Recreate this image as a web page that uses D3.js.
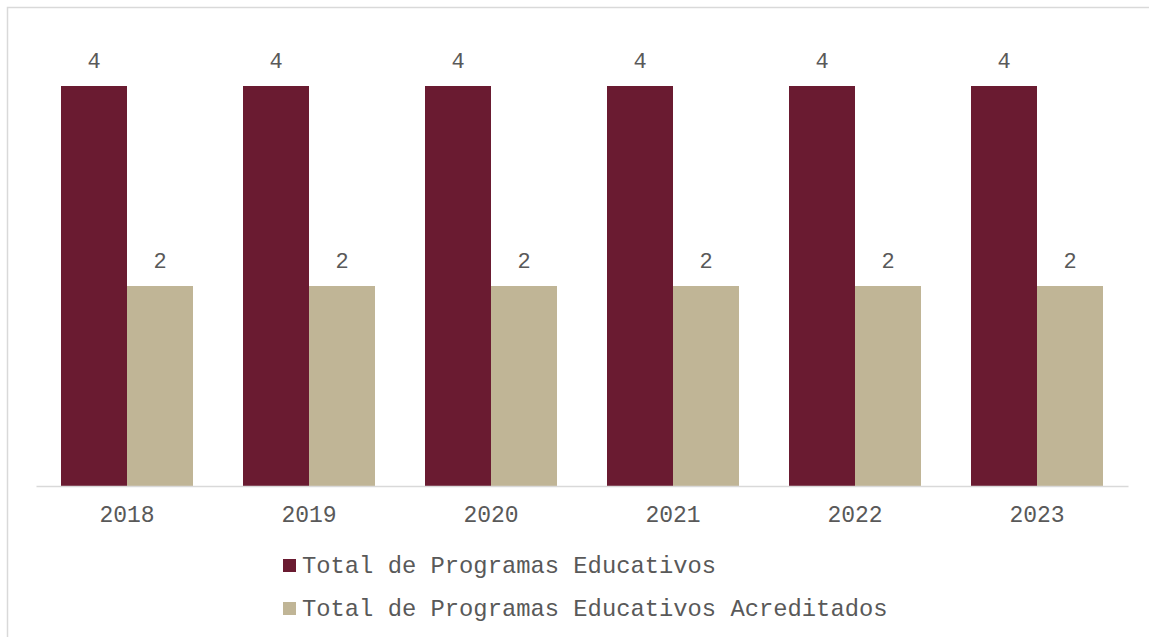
<!DOCTYPE html>
<html>
<head>
<meta charset="utf-8">
<script src="https://cdn.jsdelivr.net/npm/d3@7"></script>
<style>
  body { margin: 0; background: #fff; }
  text { font-family: 'Liberation Mono', 'Courier New', monospace; fill: #595959; }
</style>
</head>
<body>
<script>
const years = ['2018', '2019', '2020', '2021', '2022', '2023']
const totalProgramas = [4, 4, 4, 4, 4, 4]
const acreditados = [2, 2, 2, 2, 2, 2]
const seriesNames = ['Total de Programas Educativos', 'Total de Programas Educativos Acreditados']
const colors = ['#6a1b31', '#c0b596']

const width = 1149
const height = 637

const svg = d3.select('body')
  .append('svg')
  .attr('width', width)
  .attr('height', height)

// chart frame
svg.append('rect')
  .attr('x', 7.5)
  .attr('y', 7.5)
  .attr('width', 1160)
  .attr('height', 660)
  .attr('fill', 'none')
  .attr('stroke', '#d9d9d9')
  .attr('stroke-width', 1.5)

const x = d3.scaleBand()
  .domain(years)
  .range([36, 1128])

const x1 = d3.scaleBand()
  .domain([0, 1])
  .range([25, x.bandwidth() - 25])

const y = d3.scaleLinear()
  .domain([0, 4])
  .range([486, 86])

const rows = years.map((yr, i) => ({ year: yr, values: [totalProgramas[i], acreditados[i]] }))

const groups = svg.append('g')
  .selectAll('g')
  .data(rows)
  .enter()
  .append('g')
  .attr('transform', d => `translate(${x(d.year)},0)`)

groups.selectAll('rect')
  .data(d => d.values.map((v, k) => ({ v, k })))
  .enter()
  .append('rect')
  .attr('x', d => x1(d.k))
  .attr('y', d => y(d.v))
  .attr('width', x1.bandwidth())
  .attr('height', d => y(0) - y(d.v))
  .attr('fill', d => colors[d.k])

groups.selectAll('text')
  .data(d => d.values.map((v, k) => ({ v, k })))
  .enter()
  .append('text')
  .attr('x', d => x1(d.k) + x1.bandwidth() / 2)
  .attr('y', d => y(d.v) - 18)
  .attr('text-anchor', 'middle')
  .attr('font-size', '22px')
  .text(d => d.v)

// x axis
const xAxis = svg.append('g')
  .attr('transform', `translate(0,${y(0)})`)
  .call(d3.axisBottom(x).tickSize(0).tickPadding(20))

xAxis.select('.domain')
  .attr('stroke', '#d9d9d9')
  .attr('stroke-width', 1.5)

xAxis.selectAll('text')
  .attr('font-size', '23px')
  .attr('fill', '#595959')
  .style('font-family', "'Liberation Mono', 'Courier New', monospace")

// legend
const legend = svg.append('g')
  .selectAll('g')
  .data(seriesNames)
  .enter()
  .append('g')
  .attr('transform', (d, i) => `translate(283,${559 + i * 43})`)

legend.append('rect')
  .attr('width', 13)
  .attr('height', 13)
  .attr('fill', (d, i) => colors[i])

legend.append('text')
  .attr('x', 19)
  .attr('y', 14)
  .attr('font-size', '23.8px')
  .text(d => d)
</script>
</body>
</html>
